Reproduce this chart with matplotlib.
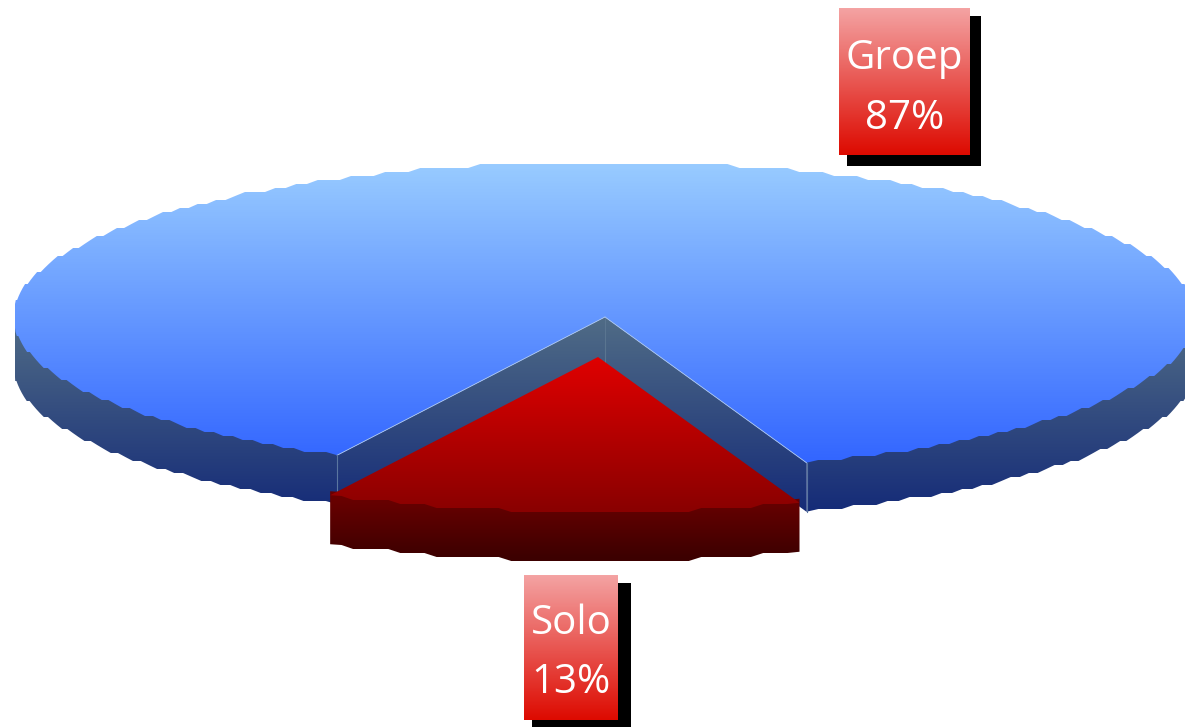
import numpy as np
import matplotlib
matplotlib.use('Agg')
import matplotlib.pyplot as plt
from matplotlib.colors import LinearSegmentedColormap
from matplotlib.patches import Polygon, Rectangle

categories = ['Groep', 'Solo']
shares = [87, 13]

plt.rcParams['font.family'] = ['Open Sans', 'DejaVu Sans']

# pie geometry in pixels
cx, cy = 605, 317
rx, ry = 592, 155
depth = 49
solo_start = np.radians(-26.9)  # measured from the bottom of the pie, going right
explode = (-7, 40)


def grad(ax, pts, y0, y1, c0, c1, z):
    # vertical gradient clipped to a polygon, flat colour outside y0..y1
    cmap = LinearSegmentedColormap.from_list('g', [c0, c1])
    t = np.clip((np.arange(727) + 0.5 - y0) / (y1 - y0), 0, 1).reshape(-1, 1)
    im = ax.imshow(t, cmap=cmap, vmin=0, vmax=1, aspect='auto',
                   extent=(0, 1185, 727, 0), zorder=z, interpolation='nearest')
    p = Polygon(pts, closed=True, transform=ax.transData, facecolor='none', edgecolor='none')
    ax.add_patch(p)
    im.set_clip_path(p)


def arc(a0, a1, x0, y0, step=4.0):
    # rim of the pie, rounded to a coarse grid so it looks stepped
    n = max(int(abs(np.degrees(a1 - a0)) / 1.2), 2)
    a = np.linspace(a0, a1, n)
    x = np.maximum(x0 + rx * np.sin(a), 15)
    y = y0 + ry * np.cos(a)
    y = np.round(y / step) * step
    y[0] = y0 + ry * np.cos(a0)
    y[-1] = y0 + ry * np.cos(a1)
    return np.column_stack([x, y])


fig = plt.figure(figsize=(11.85, 7.27), dpi=100)
ax = fig.add_axes([0, 0, 1, 1])

solo_angle = 2 * np.pi * shares[1] / sum(shares)
a_left = solo_start
a_right = solo_start + solo_angle
down = np.array([0, depth])
up = np.array([0, 4])

# big slice
rim = arc(a_right, a_left + 2 * np.pi, cx, cy)
apex = np.array([cx, cy])
top_pts = np.vstack([apex, rim])
grad(ax, top_pts, 162, 460, '#99ccff', '#3366ff', 3)

# outer wall of the big slice, only the front part shows
for a0, a1 in [(a_right, np.pi / 2), (3 * np.pi / 2, a_left + 2 * np.pi)]:
    front = arc(a0, a1, cx, cy)
    wall = np.vstack([front - up, (front + down)[::-1]])
    grad(ax, wall, 320, 512, '#506c86', '#152b78', 1)

# inner walls
right_pt = rim[0]
left_pt = rim[-1]
inner_a = np.array([apex, left_pt, left_pt + down, apex + down])
inner_b = np.array([apex, right_pt, right_pt + down, apex + down])
grad(ax, inner_a, 317, 512, '#506c86', '#152b78', 2)
grad(ax, inner_b, 317, 512, '#506c86', '#152b78', 2)
for p in (left_pt, right_pt):
    ax.plot([apex[0], p[0]], [apex[1], p[1]], color='#a9c6f2', lw=0.6, zorder=4)
    ax.plot([p[0], p[0]], [p[1], p[1] + depth], color='#5a76a0', lw=0.8, zorder=4)
ax.plot([cx, cx], [cy, cy + depth], color='#5a7590', lw=0.8, zorder=2.5)

# small slice, pulled out
sx, sy = cx + explode[0], cy + explode[1]
rim2 = arc(a_left, a_right, sx, sy)
wall2 = np.vstack([rim2 - up, (rim2 + down)[::-1]])
grad(ax, wall2, 500, 558, '#680000', '#3c0000', 5)
grad(ax, np.vstack([[sx, sy], rim2]), 357, 510, '#e00000', '#8a0000', 6)

# labels: box x, y, w, h, shadow w, h, text y of name and share
boxes = {'Groep': (839, 8, 131, 147, 134, 150, 51, 111),
         'Solo': (524, 575, 94, 145, 99, 150, 49, 108)}
for name, share in zip(categories, shares):
    x, y, w, h, sw, sh, ty0, ty1 = boxes[name]
    ax.add_patch(Rectangle((x + 8, y + 8), sw, sh, facecolor='black', edgecolor='none', zorder=7))
    pts = [(x, y), (x + w, y), (x + w, y + h), (x, y + h)]
    grad(ax, pts, y, y + h, '#f4a3a3', '#dd0a00', 8)
    ax.text(x + w / 2, y + ty0, name, color='white', fontsize=29, ha='center', va='center', zorder=9)
    ax.text(x + w / 2, y + ty1, f'{share}%', color='white', fontsize=29, ha='center', va='center', zorder=9)

ax.set_xlim(0, 1185)
ax.set_ylim(727, 0)
ax.axis('off')
fig.savefig('out.png', dpi=100)
